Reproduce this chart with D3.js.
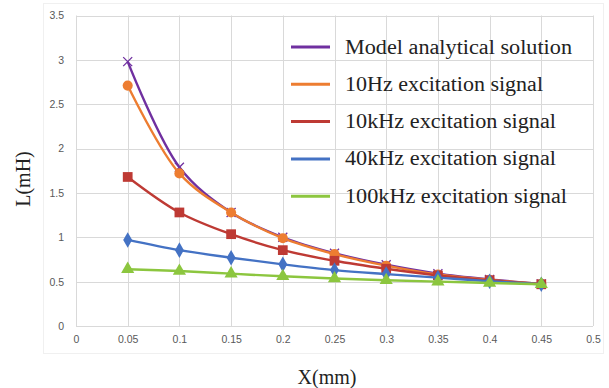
<!DOCTYPE html>
<html><head><meta charset="utf-8">
<script src="https://cdn.jsdelivr.net/npm/d3@7"></script>
<style>body{margin:0;background:#fff}svg{display:block}</style>
</head><body>
<svg id="c" width="609" height="388"></svg>
<script>
const xValues = [0.05,0.1,0.15,0.2,0.25,0.3,0.35,0.4,0.45];
const seriesNames = ["Model analytical solution","10Hz excitation signal","10kHz excitation signal","40kHz excitation signal","100kHz excitation signal"];
const modelVals  = [2.98,1.79,1.28,1.00,0.82,0.69,0.59,0.525,0.475];
const hz10Vals   = [2.71,1.72,1.28,0.99,0.81,0.68,0.58,0.52,0.475];
const khz10Vals  = [1.68,1.28,1.035,0.855,0.735,0.645,0.57,0.515,0.47];
const khz40Vals  = [0.97,0.855,0.77,0.695,0.63,0.585,0.545,0.505,0.47];
const khz100Vals = [0.64,0.62,0.59,0.56,0.535,0.515,0.50,0.485,0.47];
const xTicks = [0,0.05,0.1,0.15,0.2,0.25,0.3,0.35,0.4,0.45,0.5];
const yTicks = [0,0.5,1,1.5,2,2.5,3,3.5];
const colors = ["#7030A0","#ED7D31","#BE3A34","#4472C4","#8CC63F"];
const markers = ["x","circle","square","diamond","triangle"];
const allVals = [modelVals,hz10Vals,khz10Vals,khz40Vals,khz100Vals];
const legendWidths = [227,198,211,211,222];

const svg = d3.select("#c");
const x = d3.scaleLinear().domain([0,0.5]).range([76,593]);
const y = d3.scaleLinear().domain([0,3.5]).range([326,15.5]);

svg.append("rect").attr("x",43.5).attr("y",3.5).attr("width",560).attr("height",350)
  .attr("fill","none").attr("stroke","#f0f0f0");

const g = svg.append("g");
g.selectAll(".vg").data(xTicks).join("line")
  .attr("x1",d=>Math.round(x(d))+0.5).attr("x2",d=>Math.round(x(d))+0.5)
  .attr("y1",y(0)).attr("y2",y(3.5)).attr("stroke","#d9d9d9").attr("stroke-width",1);
g.selectAll(".hg").data(yTicks).join("line")
  .attr("y1",d=>Math.round(y(d))+0.5).attr("y2",d=>Math.round(y(d))+0.5)
  .attr("x1",x(0)).attr("x2",x(0.5)).attr("stroke","#d9d9d9").attr("stroke-width",1);

const xAxis = d3.axisBottom(x).tickValues(xTicks).tickSize(0).tickPadding(10).tickFormat(d=>String(d));
const yAxis = d3.axisLeft(y).tickValues(yTicks).tickSize(0).tickPadding(12).tickFormat(d=>String(d));
const xa = svg.append("g").attr("transform",`translate(0,${y(0)})`).call(xAxis);
const ya = svg.append("g").attr("transform",`translate(${x(0)},0)`).call(yAxis);
[xa,ya].forEach(a=>{
  a.select(".domain").remove();
  a.selectAll("text").attr("fill","#595959").style("font-family","Liberation Sans, Arial, sans-serif").style("font-size","10.5px");
});

const line = d3.line().x((d,i)=>x(xValues[i])).y(d=>y(d)).curve(d3.curveCatmullRom.alpha(0.5));
allVals.forEach((vals,si)=>{
  svg.append("path").datum(vals).attr("d",line).attr("fill","none")
    .attr("stroke",colors[si]).attr("stroke-width",2.4);
  const mg = svg.append("g");
  vals.forEach((v,i)=>{
    const cx = x(xValues[i]), cy = y(v);
    const m = markers[si];
    if(m==="x"){
      mg.append("path").attr("d",`M${cx-4.5},${cy-4.5}L${cx+4.5},${cy+4.5}M${cx-4.5},${cy+4.5}L${cx+4.5},${cy-4.5}`)
        .attr("stroke",colors[si]).attr("stroke-width",1.3).attr("fill","none");
    } else {
      const type = {circle:d3.symbolCircle,square:d3.symbolSquare,diamond:d3.symbolDiamond,triangle:d3.symbolTriangle}[m];
      const size = {circle:80,square:95,diamond:70,triangle:75}[m];
      mg.append("path").attr("d",d3.symbol().type(type).size(size)())
        .attr("transform",`translate(${cx},${cy})`).attr("fill",colors[si]);
    }
  });
});

const lg = svg.append("g");
seriesNames.forEach((n,i)=>{
  const ly = 47 + i*37.3;
  lg.append("line").attr("x1",291).attr("x2",330).attr("y1",ly).attr("y2",ly)
    .attr("stroke",colors[i]).attr("stroke-width",3);
  lg.append("text").attr("x",345).attr("y",ly+6.5).text(n)
    .attr("textLength",legendWidths[i]).attr("lengthAdjust","spacingAndGlyphs")
    .style("font-family","Liberation Serif, Times New Roman, serif").style("font-size","20px").attr("fill","#222");
});

svg.append("text").attr("x",327).attr("y",384).attr("text-anchor","middle").text("X(mm)")
  .style("font-family","Liberation Serif, Times New Roman, serif").style("font-size","20px").attr("fill","#222");
svg.append("text").attr("transform","translate(30,179) rotate(-90)").attr("text-anchor","middle").text("L(mH)")
  .style("font-family","Liberation Serif, Times New Roman, serif").style("font-size","20px").attr("fill","#222");
</script>
</body></html>
